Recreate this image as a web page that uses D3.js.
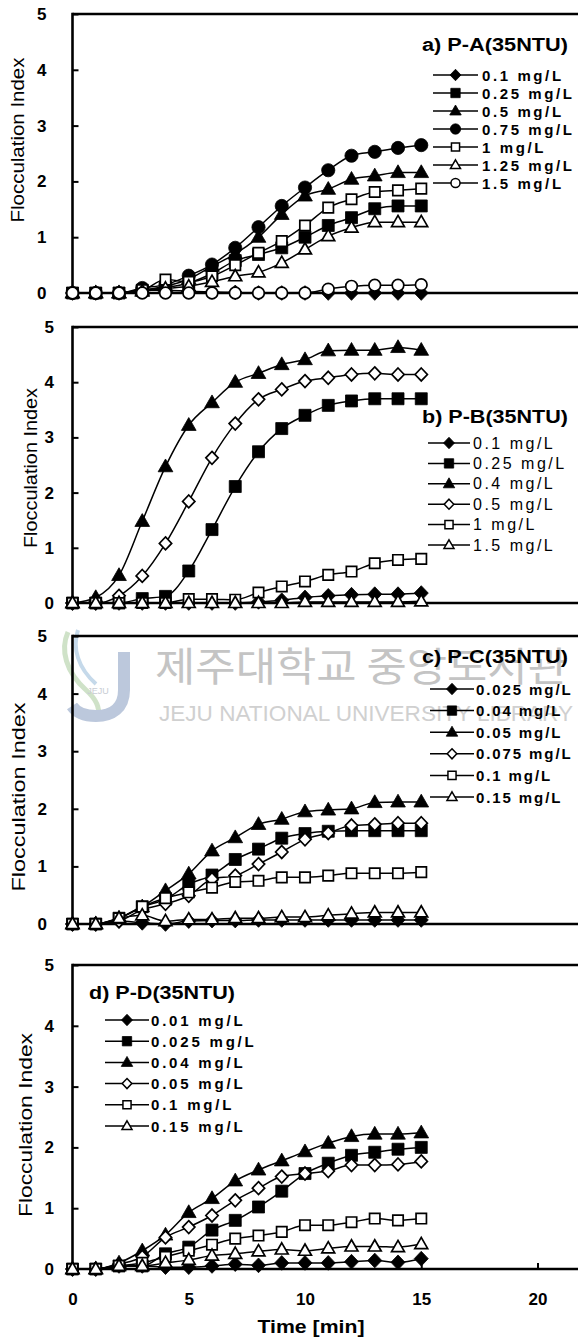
<!DOCTYPE html>
<html>
<head>
<meta charset="utf-8">
<script src="https://cdn.jsdelivr.net/npm/d3@7"></script>
<style>
  html, body { margin: 0; padding: 0; background: #fff; }
  svg { display: block; }
</style>
</head>
<body>
<svg id="chart" width="578" height="1337"></svg>
<script>
// Sampling times (min), shared by all four panels
const timeMin = [0, 1, 2, 3, 4, 5, 6, 7, 8, 9, 10, 11, 12, 13, 14, 15];
const xTickValues = [0, 5, 10, 15, 20];
const yTickValues = [0, 1, 2, 3, 4, 5];
const xTitle = "Time [min]";
const yTitle = "Flocculation Index";

// a) P-A
const titleA = "a) P-A(35NTU)";
const dosesA = ["0.1 mg/L", "0.25 mg/L", "0.5 mg/L", "0.75 mg/L", "1 mg/L", "1.25 mg/L", "1.5 mg/L"];
const markersA = ["diamond", "square", "triangle", "circle", "square", "triangle", "circle"];
const filledA = [true, true, true, true, false, false, false];
const valuesA = [
  [0, 0, 0, 0.05, 0.05, 0.03, 0.02, 0.01, 0, 0, 0, 0, 0, 0, 0, 0],
  [0, 0, 0, 0.05, 0.1, 0.18, 0.35, 0.58, 0.69, 0.81, 1.0, 1.21, 1.35, 1.51, 1.56, 1.56],
  [0, 0, 0, 0.05, 0.12, 0.25, 0.48, 0.7, 1.0, 1.41, 1.74, 1.86, 2.04, 2.1, 2.16, 2.16],
  [0, 0, 0, 0.09, 0.15, 0.31, 0.51, 0.81, 1.18, 1.56, 1.89, 2.2, 2.46, 2.53, 2.6, 2.65],
  [0, 0, 0, 0.05, 0.24, 0.2, 0.3, 0.5, 0.72, 0.93, 1.21, 1.53, 1.68, 1.81, 1.84, 1.87],
  [0, 0, 0, 0.03, 0.08, 0.12, 0.2, 0.3, 0.37, 0.54, 0.78, 1.02, 1.17, 1.27, 1.27, 1.27],
  [0, 0, 0, 0, 0, 0, 0, 0, 0, 0, 0, 0.07, 0.12, 0.14, 0.14, 0.15]
];

// b) P-B
const titleB = "b) P-B(35NTU)";
const dosesB = ["0.1 mg/L", "0.25 mg/L", "0.4 mg/L", "0.5 mg/L", "1 mg/L", "1.5 mg/L"];
const markersB = ["diamond", "square", "triangle", "diamond", "square", "triangle"];
const filledB = [true, true, true, false, false, false];
const valuesB = [
  [0, 0, 0, 0, 0, 0, 0, 0, 0.02, 0.05, 0.1, 0.13, 0.15, 0.16, 0.16, 0.18],
  [0, 0, 0, 0.08, 0.12, 0.58, 1.33, 2.11, 2.74, 3.16, 3.4, 3.58, 3.66, 3.7, 3.7, 3.7],
  [0, 0.1, 0.5, 1.48, 2.47, 3.22, 3.63, 4.0, 4.16, 4.32, 4.41, 4.57, 4.58, 4.58, 4.63, 4.58],
  [0, 0, 0.13, 0.49, 1.08, 1.84, 2.63, 3.25, 3.69, 3.87, 4.02, 4.08, 4.14, 4.16, 4.14, 4.14],
  [0, 0, 0, 0, 0, 0.07, 0.07, 0.06, 0.19, 0.3, 0.39, 0.51, 0.57, 0.72, 0.78, 0.8],
  [0, 0, 0, 0, 0, 0, 0, 0, 0, 0, 0.02, 0.02, 0.02, 0.02, 0.02, 0.03]
];

// c) P-C
const titleC = "c) P-C(35NTU)";
const dosesC = ["0.025 mg/L", "0.04 mg/L", "0.05 mg/L", "0.075 mg/L", "0.1 mg/L", "0.15 mg/L"];
const markersC = ["diamond", "square", "triangle", "diamond", "square", "triangle"];
const filledC = [true, true, true, false, false, false];
const valuesC = [
  [0, 0, 0.05, 0.02, 0, 0.05, 0.06, 0.06, 0.07, 0.07, 0.07, 0.07, 0.07, 0.07, 0.07, 0.07],
  [0, 0, 0.1, 0.3, 0.43, 0.69, 0.85, 1.12, 1.3, 1.49, 1.57, 1.61, 1.62, 1.62, 1.62, 1.62],
  [0, 0, 0.1, 0.3, 0.58, 0.87, 1.27, 1.5, 1.73, 1.82, 1.95, 1.98, 2.0, 2.11, 2.12, 2.12],
  [0, 0, 0.05, 0.25, 0.35, 0.49, 0.78, 0.84, 1.04, 1.25, 1.47, 1.58, 1.71, 1.73, 1.75, 1.75],
  [0, 0, 0.1, 0.3, 0.45, 0.55, 0.63, 0.73, 0.75, 0.81, 0.81, 0.84, 0.88, 0.88, 0.88, 0.9],
  [0, 0, 0.1, 0.15, 0.05, 0.08, 0.08, 0.1, 0.1, 0.12, 0.12, 0.15, 0.18, 0.2, 0.2, 0.2]
];

// d) P-D
const titleD = "d) P-D(35NTU)";
const dosesD = ["0.01 mg/L", "0.025 mg/L", "0.04 mg/L", "0.05 mg/L", "0.1 mg/L", "0.15 mg/L"];
const markersD = ["diamond", "square", "triangle", "diamond", "square", "triangle"];
const filledD = [true, true, true, false, false, false];
const valuesD = [
  [0, 0, 0.05, 0.05, 0.03, 0.03, 0.05, 0.08, 0.06, 0.1, 0.1, 0.1, 0.12, 0.14, 0.11, 0.17],
  [0, 0, 0.05, 0.05, 0.25, 0.36, 0.64, 0.8, 1.02, 1.28, 1.57, 1.74, 1.87, 1.92, 1.97, 2.0],
  [0, 0, 0.1, 0.3, 0.56, 0.93, 1.16, 1.45, 1.63, 1.78, 1.93, 2.07, 2.18, 2.22, 2.22, 2.24],
  [0, 0, 0.08, 0.2, 0.52, 0.69, 0.88, 1.13, 1.33, 1.52, 1.57, 1.61, 1.71, 1.71, 1.72, 1.77],
  [0, 0, 0.05, 0.1, 0.2, 0.3, 0.4, 0.5, 0.55, 0.61, 0.72, 0.72, 0.77, 0.83, 0.8, 0.83],
  [0, 0, 0.05, 0.05, 0.1, 0.15, 0.22, 0.25, 0.29, 0.32, 0.3, 0.34, 0.37, 0.37, 0.36, 0.41]
];

// Page geometry for each panel
const panelLayout = [
  { top: 14,  bottom: 293,  yTitleX: 18, yTitleY: 140,  yTitleLen: 165, tickPad: 26,
    titleX: 422, titleY: 45,  legX: 433, legW: 45, legTextX: 482, legY0: 75,   legDy: 18,
    legWeight: "bold", legSize: 15, legSpacing: 2.6, bottomTicks: false },
  { top: 327, bottom: 603,  yTitleX: 31, yTitleY: 468,  yTitleLen: 160, tickPad: 18.5,
    titleX: 422, titleY: 417, legX: 428, legW: 42, legTextX: 473, legY0: 443,  legDy: 20.4,
    legWeight: "normal", legSize: 16, legSpacing: 2.5, bottomTicks: false },
  { top: 636, bottom: 924,  yTitleX: 19, yTitleY: 797,  yTitleLen: 189, tickPad: 25.5,
    titleX: 422, titleY: 657, legX: 430, legW: 44, legTextX: 476, legY0: 689,  legDy: 21.6,
    legWeight: "bold", legSize: 15, legSpacing: 1.9, bottomTicks: false },
  { top: 965, bottom: 1269, yTitleX: 26, yTitleY: 1125, yTitleLen: 184, tickPad: 18.5,
    titleX: 89,  titleY: 993, legX: 105, legW: 44, legTextX: 151, legY0: 1020, legDy: 21.2,
    legWeight: "bold", legSize: 15, legSpacing: 2.8, bottomTicks: true }
];

const panels = [
  { title: titleA, doses: dosesA, markers: markersA, filled: filledA, values: valuesA },
  { title: titleB, doses: dosesB, markers: markersB, filled: filledB, values: valuesB },
  { title: titleC, doses: dosesC, markers: markersC, filled: filledC, values: valuesC },
  { title: titleD, doses: dosesD, markers: markersD, filled: filledD, values: valuesD }
];

const FONT = "'Liberation Sans', Arial, Helvetica, sans-serif";
const svg = d3.select("#chart");
const plotLeft = 72.5;
const x = d3.scaleLinear().domain([0, 25]).range([plotLeft, plotLeft + 25 * 23.25]);

// marker outlines centred on (0,0)
function markerPath(kind, r) {
  if (kind === "square") return `M${-r},${-r}H${r}V${r}H${-r}Z`;
  if (kind === "diamond") return `M0,${-r * 1.15}L${r * 1.1},0L0,${r * 1.15}L${-r * 1.1},0Z`;
  if (kind === "triangle") return `M0,${-r * 1.2}L${r * 1.15},${r * 0.8}L${-r * 1.15},${r * 0.8}Z`;
  const p = d3.path();
  p.arc(0, 0, r, 0, 2 * Math.PI);
  p.closePath();
  return p.toString();
}
function markerSize(kind, filled) {
  const base = { square: 6, diamond: 6.4, triangle: 6.4, circle: 6.6 }[kind];
  return filled ? base : base - 0.8;
}

// library watermark printed across panel c
function drawWatermark(g) {
  const wm = g.append("g").attr("class", "watermark");
  wm.append("path")
    .attr("d", "M68,632 C60,650 66,672 86,690 C96,699 100,708 98,716")
    .attr("fill", "none").attr("stroke", "#cfe2c8").attr("stroke-width", 5);
  wm.append("path")
    .attr("d", "M78,630 C72,648 78,668 96,684")
    .attr("fill", "none").attr("stroke", "#c5d9ea").attr("stroke-width", 4);
  wm.append("path")
    .attr("d", "M124,652 V690 C124,708 112,716 96,716 C84,716 76,712 72,706")
    .attr("fill", "none").attr("stroke", "#bcc8dc").attr("stroke-width", 12);
  wm.append("text").attr("x", 98).attr("y", 694).attr("text-anchor", "middle")
    .attr("font-family", FONT).attr("font-size", 9).attr("fill", "#c8ccd4").text("JEJU");
  wm.append("text")
    .attr("x", 155).attr("y", 681)
    .attr("font-family", "'Noto Sans CJK KR', sans-serif")
    .attr("font-size", 40)
    .attr("textLength", 413).attr("lengthAdjust", "spacingAndGlyphs")
    .attr("fill", "#c4c4c4")
    .text("제주대학교 중앙도서관");
  wm.append("text")
    .attr("x", 159).attr("y", 721)
    .attr("font-family", FONT).attr("font-size", 22)
    .attr("textLength", 414).attr("lengthAdjust", "spacingAndGlyphs")
    .attr("fill", "#d0d0d0")
    .text("JEJU NATIONAL UNIVERSITY LIBRARY");
}

panels.forEach((panel, pi) => {
  const L = panelLayout[pi];
  const g = svg.append("g").attr("class", "panel");
  const y = d3.scaleLinear().domain([0, 5]).range([L.bottom, L.top]);

  if (pi === 2) drawWatermark(g);

  // left axis: ticks point into the plot
  const yAxis = d3.axisLeft(y).tickValues(yTickValues).tickFormat(d3.format("d"))
    .tickSizeInner(-6).tickSizeOuter(0).tickPadding(L.tickPad);
  const ya = g.append("g").attr("transform", `translate(${plotLeft},0)`).call(yAxis);
  ya.select(".domain").remove();
  ya.selectAll(".tick line").attr("stroke", "#000").attr("stroke-width", 2);
  ya.selectAll(".tick text")
    .attr("font-family", FONT).attr("font-size", 17).attr("font-weight", "bold").attr("fill", "#000");

  if (L.bottomTicks) {
    const xAxis = d3.axisBottom(x).tickValues(xTickValues).tickFormat(d3.format("d"))
      .tickSizeInner(-6).tickSizeOuter(0).tickPadding(24);
    const xa = g.append("g").attr("transform", `translate(0,${L.bottom})`).call(xAxis);
    xa.select(".domain").remove();
    xa.selectAll(".tick line").attr("stroke", "#000").attr("stroke-width", 2);
    xa.selectAll(".tick text")
      .attr("font-family", FONT).attr("font-size", 17).attr("font-weight", "bold").attr("fill", "#000");
  }

  // frame: left, top and bottom edges
  const frame = g.append("g").attr("stroke", "#000").attr("stroke-width", 2.6).attr("fill", "none");
  frame.append("line").attr("x1", plotLeft).attr("x2", plotLeft).attr("y1", y(5) - 1.3).attr("y2", y(0) + 1.3);
  frame.append("line").attr("x1", plotLeft).attr("x2", 578).attr("y1", y(5)).attr("y2", y(5));
  frame.append("line").attr("x1", plotLeft).attr("x2", 578).attr("y1", y(0)).attr("y2", y(0));

  // y-axis title
  g.append("text")
    .attr("transform", `translate(${L.yTitleX},${L.yTitleY}) rotate(-90)`)
    .attr("text-anchor", "middle").attr("dominant-baseline", "central")
    .attr("font-family", FONT).attr("font-size", 18)
    .attr("textLength", L.yTitleLen).attr("lengthAdjust", "spacingAndGlyphs")
    .attr("fill", "#000")
    .text(yTitle);

  // series
  const line = d3.line().x((d, i) => x(timeMin[i])).y(d => y(d)).curve(d3.curveMonotoneX);
  panel.values.forEach((vals, si) => {
    const kind = panel.markers[si];
    const filled = panel.filled[si];
    const r = markerSize(kind, filled);
    const sg = g.append("g").attr("class", "series");
    sg.append("path").attr("d", line(vals))
      .attr("fill", "none").attr("stroke", "#000").attr("stroke-width", 1.5);
    sg.selectAll("path.mk").data(vals).join("path").attr("class", "mk")
      .attr("transform", (d, i) => `translate(${x(timeMin[i])},${y(d)})`)
      .attr("d", markerPath(kind, r))
      .attr("fill", filled ? "#000" : "#fff")
      .attr("stroke", "#000").attr("stroke-width", filled ? 0.8 : 1.7);
  });

  // legend
  const lg = g.append("g").attr("class", "legend");
  lg.append("text")
    .attr("x", L.titleX).attr("y", L.titleY).attr("dominant-baseline", "central")
    .attr("font-family", FONT).attr("font-size", 18).attr("font-weight", "bold")
    .attr("textLength", 146).attr("lengthAdjust", "spacingAndGlyphs")
    .attr("fill", "#000")
    .text(panel.title);
  panel.doses.forEach((label, si) => {
    const ly = L.legY0 + si * L.legDy;
    const kind = panel.markers[si];
    const filled = panel.filled[si];
    lg.append("line").attr("x1", L.legX).attr("x2", L.legX + L.legW).attr("y1", ly).attr("y2", ly)
      .attr("stroke", "#000").attr("stroke-width", 1.5);
    lg.append("path")
      .attr("transform", `translate(${L.legX + L.legW / 2},${ly})`)
      .attr("d", markerPath(kind, markerSize(kind, filled) * 0.78))
      .attr("fill", filled ? "#000" : "#fff")
      .attr("stroke", "#000").attr("stroke-width", filled ? 0.8 : 1.5);
    lg.append("text")
      .attr("x", L.legTextX).attr("y", ly).attr("dominant-baseline", "central")
      .attr("font-family", FONT).attr("font-size", L.legSize).attr("font-weight", L.legWeight)
      .attr("letter-spacing", L.legSpacing)
      .attr("fill", "#000")
      .text(label);
  });
});

// shared x-axis title
svg.append("text")
  .attr("x", 311).attr("y", 1333).attr("text-anchor", "middle")
  .attr("font-family", FONT).attr("font-size", 18).attr("font-weight", "bold")
  .attr("textLength", 107).attr("lengthAdjust", "spacingAndGlyphs")
  .attr("fill", "#000")
  .text(xTitle);
</script>
</body>
</html>
